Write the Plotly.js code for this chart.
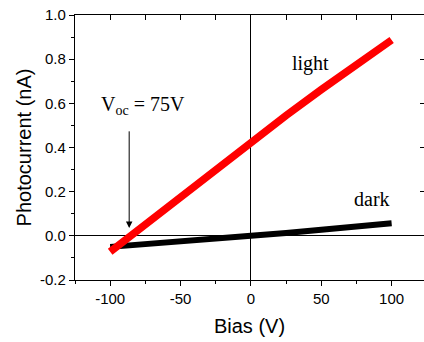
<!DOCTYPE html>
<html>
<head>
<meta charset="utf-8">
<script src="https://cdn.plot.ly/plotly-3.0.1.min.js"></script>
<style>
  html, body { margin: 0; padding: 0; background: #fff; }
  #plot { width: 424px; height: 342px; }
</style>
</head>
<body>
<div id="plot"></div>
<script>
// Bias sweep (V)
const bias = [-100, -75, -50, -25, 0, 25, 50, 75, 100];
// Photocurrent under illumination (nA)
const lightCurrent = [-0.072, 0.052, 0.177, 0.302, 0.425, 0.545, 0.662, 0.776, 0.887];
// Dark current (nA)
const darkCurrent = [-0.05, -0.039, -0.027, -0.014, 0.0, 0.013, 0.027, 0.041, 0.057];

// Open-circuit voltage marker
const vocArrowX = -86.5;
const vocArrowTipY = 0.035;
const vocArrowTailY = 0.48;

const xTicks = [-100, -50, 0, 50, 100];
const xTickText = ['-100', '-50', '0', '50', '100'];
const yTicks = [-0.2, 0.0, 0.2, 0.4, 0.6, 0.8, 1.0];
const yTickText = ['-0.2', '0.0', '0.2', '0.4', '0.6', '0.8', '1.0'];

const xRange = [-125, 123];
const yRange = [-0.2, 1.0];

const traces = [
  {
    x: bias, y: darkCurrent, mode: 'lines',
    line: { color: '#000000', width: 6 },
    name: 'dark', showlegend: false
  },
  {
    x: bias, y: lightCurrent, mode: 'lines',
    line: { color: '#ff0000', width: 7.5 },
    name: 'light', showlegend: false
  }
];

const tickFont = { family: 'Liberation Sans, Arial, sans-serif', size: 15, color: '#000' };
const titleFont = { family: 'Liberation Sans, Arial, sans-serif', size: 20, color: '#000' };
const serif = { family: 'Liberation Serif, Times New Roman, serif', size: 20, color: '#000' };

const layout = {
  width: 424, height: 342,
  margin: { l: 75, r: 0, t: 15, b: 62, pad: 0 },
  paper_bgcolor: '#fff', plot_bgcolor: '#fff',
  xaxis: {
    range: xRange, tickvals: xTicks, ticktext: xTickText, ticks: 'outside', ticklen: 5, tickwidth: 1,
    tickcolor: '#000', showline: true, linecolor: '#000', linewidth: 1.2,
    showgrid: false, zeroline: true, zerolinecolor: '#000', zerolinewidth: 1,
    tickfont: tickFont,
    minor: { dtick: 25, tick0: 0, ticks: 'outside', ticklen: 3, tickcolor: '#000', showgrid: false },
    title: { text: 'Bias (V)', font: titleFont, standoff: 12 },
    automargin: false
  },
  xaxis2: {
    overlaying: 'x', matches: 'x', side: 'top', anchor: 'y',
    range: xRange, dtick: 25, tick0: 0, ticks: 'inside', ticklen: 5, tickcolor: '#000',
    showticklabels: false, showline: true, linecolor: '#000', linewidth: 1.2,
    showgrid: false, zeroline: false
  },
  yaxis: {
    range: yRange, tickvals: yTicks, ticktext: yTickText, ticks: 'outside', ticklen: 5,
    tickwidth: 1, tickcolor: '#000', showline: true, linecolor: '#000', linewidth: 1.2,
    showgrid: false, zeroline: true, zerolinecolor: '#000', zerolinewidth: 1,
    tickfont: tickFont,
    minor: { dtick: 0.1, tick0: 0, ticks: 'outside', ticklen: 3, tickcolor: '#000', showgrid: false },
    title: { text: 'Photocurrent (nA)', font: titleFont, standoff: 3 },
    automargin: false
  },
  yaxis2: {
    overlaying: 'y', matches: 'y', side: 'right', anchor: 'x',
    range: yRange, dtick: 0.2, tick0: 0, ticks: 'inside', ticklen: 4, tickcolor: '#000',
    showticklabels: false, showline: true, linecolor: '#000', linewidth: 1.2,
    showgrid: false, zeroline: false
  },
  annotations: [
    { x: 42, y: 0.78, xref: 'x', yref: 'y', text: 'light', showarrow: false, font: serif },
    { x: 86, y: 0.167, xref: 'x', yref: 'y', text: 'dark', showarrow: false, font: serif },
    { x: -77, y: 0.59, xref: 'x', yref: 'y', text: 'V<sub>oc</sub> = 75V', showarrow: false, font: serif },
    {
      x: vocArrowX, y: vocArrowTipY, xref: 'x', yref: 'y',
      ax: vocArrowX, ay: vocArrowTailY, axref: 'x', ayref: 'y',
      text: '', showarrow: true, arrowhead: 2, arrowsize: 1.3, arrowwidth: 1, arrowcolor: '#000',
      standoff: 0, startstandoff: 0
    }
  ],
  showlegend: false
};

// Empty traces pin the mirrored frame axes
traces.push({ x: [], y: [], xaxis: 'x2', yaxis: 'y', showlegend: false, hoverinfo: 'skip' });
traces.push({ x: [], y: [], xaxis: 'x', yaxis: 'y2', showlegend: false, hoverinfo: 'skip' });

Plotly.newPlot('plot', traces, layout, { staticPlot: true, displayModeBar: false });
</script>
</body>
</html>
